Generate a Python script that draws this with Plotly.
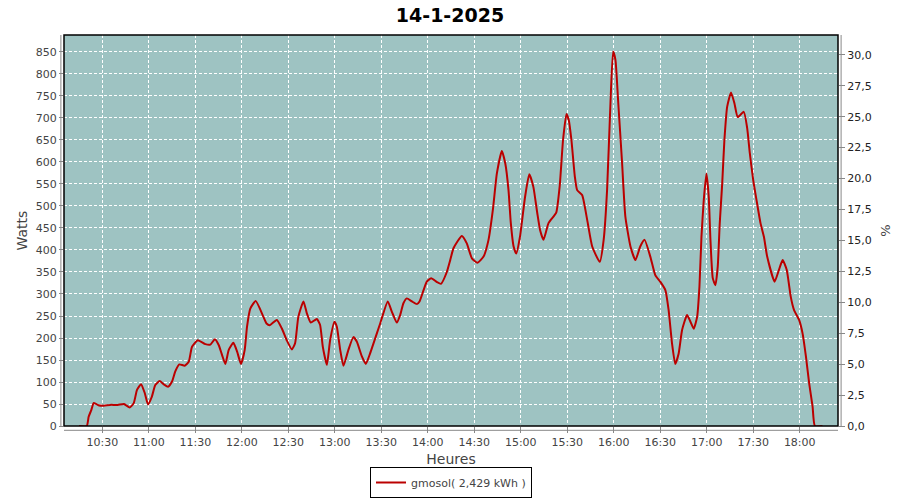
import plotly.graph_objects as go
import pandas as pd

day = "2025-01-14"
times = [
    "10:15:00", "10:20:00", "10:21:12", "10:22:54", "10:24:24", "10:25:36", "10:27:30", "10:30:54",
    "10:35:00", "10:40:00", "10:44:00", "10:47:42", "10:50:18", "10:52:24", "10:55:00", "10:57:24",
    "10:59:30", "11:02:00", "11:04:12", "11:07:00", "11:09:36", "11:12:24", "11:15:00", "11:17:06",
    "11:19:42", "11:23:12", "11:25:48", "11:27:54", "11:31:36", "11:36:30", "11:39:42", "11:42:36",
    "11:45:06", "11:47:18", "11:49:24", "11:51:36", "11:54:36", "11:57:00", "11:59:30", "12:01:54",
    "12:03:24", "12:05:30", "12:09:00", "12:14:00", "12:16:00", "12:18:00", "12:22:36", "12:25:48",
    "12:29:00", "12:32:18", "12:34:24", "12:36:30", "12:39:48", "12:42:00", "12:44:30", "12:48:24",
    "12:50:30", "12:52:18", "12:54:54", "12:57:00", "12:59:48", "13:01:18", "13:03:30", "13:05:36",
    "13:08:48", "13:12:00", "13:14:12", "13:17:30", "13:20:00", "13:22:48", "13:29:18", "13:34:12",
    "13:36:48", "13:40:00", "13:42:12", "13:44:18", "13:46:30", "13:49:48", "13:53:00", "13:54:42",
    "13:57:18", "13:59:24", "14:02:12", "14:05:54", "14:08:30", "14:12:18", "14:14:30", "14:16:36",
    "14:22:00", "14:25:12", "14:28:30", "14:32:06", "14:36:00", "14:39:12", "14:42:00", "14:44:36",
    "14:47:48", "14:50:00", "14:52:06", "14:53:36", "14:55:24", "14:57:06", "14:59:30", "15:02:48",
    "15:05:30", "15:08:06", "15:10:42", "15:12:30", "15:14:42", "15:17:54", "15:21:06", "15:22:54",
    "15:25:06", "15:27:18", "15:29:30", "15:31:00", "15:32:42", "15:34:54", "15:36:24", "15:39:36",
    "15:42:54", "15:46:06", "15:51:00", "15:53:30", "15:55:42", "15:57:48", "15:59:36", "16:01:06",
    "16:02:48", "16:05:24", "16:07:30", "16:10:48", "16:14:00", "16:17:06", "16:19:54", "16:23:36",
    "16:26:48", "16:30:00", "16:33:18", "16:35:24", "16:37:36", "16:39:42", "16:41:54", "16:44:06",
    "16:47:18", "16:49:30", "16:51:36", "16:53:48", "16:55:18", "16:56:36", "16:58:06", "16:59:48",
    "17:01:18", "17:02:24", "17:03:54", "17:05:36", "17:07:06", "17:08:24", "17:10:00", "17:11:24",
    "17:13:12", "17:15:42", "17:17:54", "17:20:00", "17:23:54", "17:26:06", "17:27:48", "17:30:00",
    "17:32:06", "17:34:42", "17:36:54", "17:39:00", "17:43:48", "17:46:36", "17:49:00", "17:51:36",
    "17:54:12", "17:56:18", "17:59:36", "18:01:48", "18:04:00", "18:06:06", "18:08:18", "18:09:48",
    "18:14:42",
]
watts = [
    0, 0, 21, 36, 52, 51, 47, 46,
    48, 48, 50, 42, 52, 82, 95, 75,
    49, 67, 93, 102, 95, 89, 101, 124,
    140, 137, 146, 180, 195, 186, 185, 197,
    184, 161, 141, 173, 189, 169, 141, 173,
    226, 267, 284, 248, 233, 229, 241, 222,
    195, 174, 188, 248, 283, 256, 235, 243,
    230, 180, 139, 195, 237, 226, 173, 137,
    173, 202, 192, 158, 141, 165, 233, 283,
    260, 235, 252, 279, 290, 283, 277, 283,
    309, 328, 336, 327, 323, 350, 377, 404,
    432, 415, 381, 371, 385, 423, 491, 574,
    625, 597, 536, 461, 408, 392, 430, 521,
    572, 544, 483, 445, 423, 461, 476, 485,
    544, 650, 709, 695, 650, 567, 536, 525,
    468, 408, 373, 423, 536, 726, 851, 832,
    741, 597, 476, 408, 377, 408, 423, 385,
    343, 328, 309, 264, 188, 141, 165, 218,
    252, 237, 221, 248, 317, 430, 514, 574,
    521, 423, 336, 320, 362, 461, 552, 650,
    726, 758, 733, 702, 714, 677, 620, 559,
    514, 461, 430, 385, 328, 355, 377, 355,
    294, 264, 241, 211, 158, 97, 44, 0,
    0,
]
tick_times = ["10:30", "11:00", "11:30", "12:00", "12:30", "13:00", "13:30", "14:00",
              "14:30", "15:00", "15:30", "16:00", "16:30", "17:00", "17:30", "18:00"]
watt_ticks = list(range(0, 851, 50))
pct_ticks = [0, 2.5, 5, 7.5, 10, 12.5, 15, 17.5, 20, 22.5, 25, 27.5, 30]

series_name = "gmosol( 2,429 kWh )"
title_text = "14-1-2025"

x = pd.to_datetime([f"{day} {t}" for t in times])
tickvals = pd.to_datetime([f"{day} {t}" for t in tick_times])

fig = go.Figure()
fig.add_trace(go.Scatter(
    x=x, y=watts, mode="lines", name=series_name,
    line=dict(color="#bb0000", width=2, shape="spline", smoothing=0.5),
))
fig.add_trace(go.Scatter(
    x=[x[0]], y=[None], yaxis="y2", mode="lines", showlegend=False, hoverinfo="skip",
))

font_family = "DejaVu Sans"
tick_font = dict(family=font_family, size=11, color="#444444")

fig.update_layout(
    width=900, height=500,
    margin=dict(l=64, r=62, t=35, b=74, autoexpand=False),
    paper_bgcolor="white",
    plot_bgcolor="#9ec3c2",
    separators=", ",
    title=dict(text=title_text, x=0.5, xanchor="center", y=0.97, yanchor="middle",
               font=dict(family=font_family, size=19, color="black", weight="bold")),
    xaxis=dict(
        range=[pd.Timestamp(f"{day} 10:05:18"), pd.Timestamp(f"{day} 18:24:42")],
        tickvals=tickvals, ticktext=tick_times, automargin=False,
        showgrid=True, gridcolor="white", griddash="3px,2px", gridwidth=1,
        ticks="outside", ticklen=6, tickcolor="#888888",
        tickfont=tick_font,
        title=dict(text="Heures", font=dict(family=font_family, size=14, color="#444444"), standoff=6),
        zeroline=False, showline=False,
    ),
    yaxis=dict(
        range=[0, 888.6], tickvals=watt_ticks, automargin=False,
        showgrid=True, gridcolor="white", griddash="3px,2px", gridwidth=1,
        ticks="outside", ticklen=4, tickcolor="#888888",
        tickfont=tick_font,
        title=dict(text="Watts", font=dict(family=font_family, size=14, color="#444444"), standoff=4),
        zeroline=False, showline=False,
    ),
    yaxis2=dict(
        overlaying="y", side="right", range=[0, 31.6], tickvals=pct_ticks, automargin=False,
        tickformat=".1f", showgrid=False, zeroline=False,
        ticks="outside", ticklen=6, tickcolor="#888888",
        tickfont=dict(family=font_family, size=11, color="#222222"),
        title=dict(text="%", font=dict(family=font_family, size=13, color="#444444"), standoff=10),
    ),
    legend=dict(
        orientation="h", x=0.5, xanchor="center", yref="container", y=0.004, yanchor="bottom",
        bordercolor="black", borderwidth=1, bgcolor="white",
        font=dict(family=font_family, size=11, color="#444444"),
        itemwidth=30, tracegroupgap=0,
    ),
    shapes=[
        dict(type="rect", xref="paper", yref="paper", x0=0, x1=1, y0=0, y1=1,
             line=dict(color="black", width=1.5), fillcolor="rgba(0,0,0,0)", layer="above"),
        dict(type="line", xref="paper", yref="paper", x0=-0.004, x1=-0.004, y0=0, y1=1,
             line=dict(color="#888888", width=1)),
        dict(type="line", xref="paper", yref="paper", x0=0, x1=1, y0=-0.011, y1=-0.011,
             line=dict(color="#888888", width=1)),
        dict(type="line", xref="paper", yref="paper", x0=1.004, x1=1.004, y0=0, y1=1,
             line=dict(color="#888888", width=1)),
    ],
)

fig.write_html(
    "out.html",
    config={"displayModeBar": False},
    post_script="document.body.style.margin='0';document.body.style.overflow='hidden';",
)
